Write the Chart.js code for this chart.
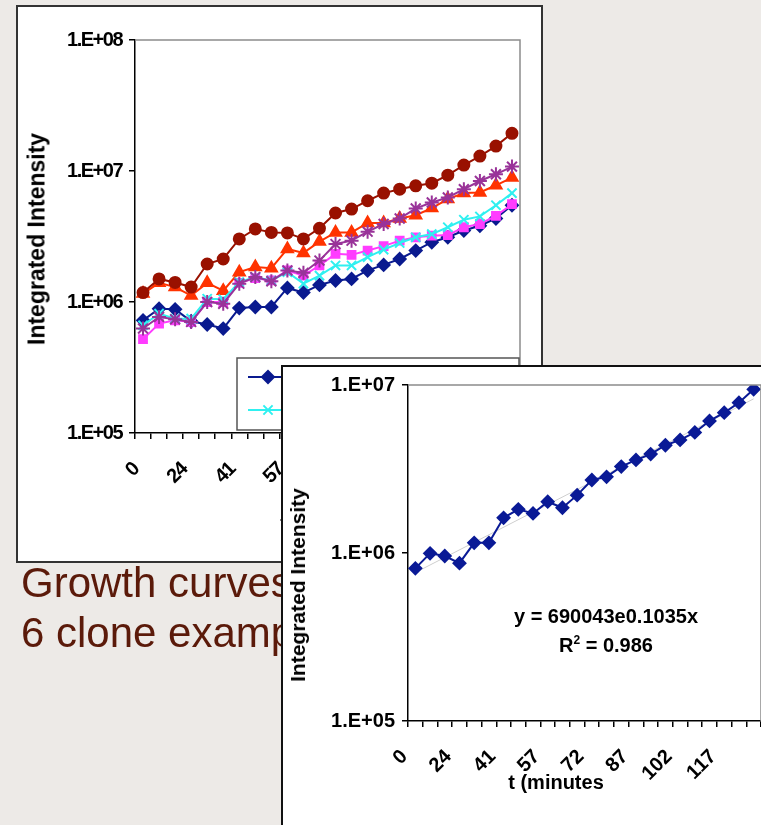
<!DOCTYPE html>
<html>
<head>
<meta charset="utf-8">
<script src="https://cdn.jsdelivr.net/npm/chart.js@4.4.0/dist/chart.umd.min.js"></script>
<style>
  body { margin: 0; width: 761px; height: 825px; overflow: hidden; position: relative;
         background: #edeae7; font-family: Arial, "Liberation Sans", sans-serif; }
  .box { position: absolute; background: #fff; box-sizing: border-box; }
  #box1 { left: 16px; top: 5px; width: 527px; height: 558px; border: 2px solid #333; }
  #box2 { left: 281px; top: 365px; width: 600px; height: 600px; border: 2px solid #111; }
  canvas { position: absolute; }
  #c1 { left: 17px; top: 6px; }
  #c2 { left: 282px; top: 366px; }
  #caption { position: absolute; left: 21px; top: 558px; font-size: 42px; line-height: 50px;
             color: #5b1a0a; white-space: nowrap; }
  .t2 { position: absolute; font-weight: bold; color: #000; white-space: nowrap; }
  #ytitle1 { left: 37px; top: 239px; font-size: 23px; transform: translate(-50%, -50%) rotate(-90deg); }
  #xtitle1 { left: 328px; top: 523px; font-size: 20px; transform: translate(-50%, -50%); }
  #ytitle2 { left: 298px; top: 585px; font-size: 21px; transform: translate(-50%, -50%) rotate(-90deg); }
  #xtitle2 { left: 556px; top: 782px; font-size: 20px; transform: translate(-50%, -50%); }
  #fit { left: 456px; top: 602px; width: 300px; text-align: center; font-size: 20px; line-height: 29px; }
  #fit sup { font-size: 12px; line-height: 0; }
</style>
</head>
<body>
<div class="box" id="box1"></div>
<canvas id="c1" width="524" height="556"></canvas>
<div class="t2" id="ytitle1">Integrated Intensity</div>
<div class="t2" id="xtitle1">t (minutes</div>
<div id="caption">Growth curves<br>6 clone examples</div>
<div class="box" id="box2"></div>
<canvas id="c2" width="500" height="480"></canvas>
<div class="t2" id="ytitle2">Integrated Intensity</div>
<div class="t2" id="xtitle2">t (minutes</div>
<div class="t2" id="fit">y = 690043e0.1035x<br>R<sup>2</sup> = 0.986</div>

<script>
// category labels (only every third one is printed on the slide)
const xLabels = ['0', '', '', '24', '', '', '41', '', '', '57', '', '', '72', '', '', '87', '', '', '102', '', '', '117', '', ''];

const yTickValues1 = [1e5, 1e6, 1e7, 1e8];
const yTickText1 = ['1.E+05', '1.E+06', '1.E+07', '1.E+08'];
const yTickValues2 = [1e5, 1e6, 1e7];
const yTickText2 = ['1.E+05', '1.E+06', '1.E+07'];

// chart 1: six clones
const cloneNames = ['Clone 1', 'Clone 2', 'Clone 3', 'Clone 4', 'Clone 5', 'Clone 6'];
const clone1 = [7.24e5, 8.89e5, 8.79e5, 7.13e5, 6.73e5, 6.27e5, 8.99e5, 9.16e5, 9.16e5, 1.28e6, 1.18e6, 1.35e6,
                1.46e6, 1.50e6, 1.74e6, 1.92e6, 2.13e6, 2.47e6, 2.86e6, 3.12e6, 3.51e6, 3.82e6, 4.34e6, 5.48e6];
const clone2 = [5.2e5, 6.84e5, 7.24e5, 7.05e5, 1.0e6, 1.0e6, 1.40e6, 1.52e6, 1.46e6, 1.74e6, 1.59e6, 1.90e6,
                2.33e6, 2.29e6, 2.47e6, 2.67e6, 2.94e6, 3.12e6, 3.21e6, 3.24e6, 3.72e6, 3.94e6, 4.55e6, 5.58e6];
const clone3 = [1.16e6, 1.40e6, 1.30e6, 1.12e6, 1.40e6, 1.22e6, 1.69e6, 1.85e6, 1.81e6, 2.54e6, 2.37e6, 2.89e6,
                3.40e6, 3.40e6, 4.01e6, 4.01e6, 4.34e6, 4.60e6, 5.21e6, 6.10e6, 6.78e6, 6.85e6, 7.78e6, 8.91e6];
const clone4 = [6.64e5, 8.15e5, 7.46e5, 7.46e5, 1.06e6, 1.05e6, 1.42e6, 1.55e6, 1.46e6, 1.69e6, 1.38e6, 1.59e6,
                1.90e6, 1.90e6, 2.20e6, 2.51e6, 2.82e6, 3.12e6, 3.30e6, 3.72e6, 4.25e6, 4.50e6, 5.48e6, 6.78e6];
const clone5 = [6.27e5, 7.69e5, 7.38e5, 7.05e5, 1.0e6, 9.7e5, 1.38e6, 1.55e6, 1.44e6, 1.74e6, 1.67e6, 2.07e6,
                2.77e6, 2.94e6, 3.44e6, 3.94e6, 4.34e6, 5.18e6, 5.75e6, 6.28e6, 7.26e6, 8.39e6, 9.44e6, 1.08e7];
const clone6 = [1.18e6, 1.50e6, 1.41e6, 1.30e6, 1.95e6, 2.13e6, 3.03e6, 3.61e6, 3.40e6, 3.37e6, 3.03e6, 3.65e6,
                4.78e6, 5.12e6, 5.93e6, 6.78e6, 7.26e6, 7.71e6, 8.07e6, 9.29e6, 1.11e7, 1.30e7, 1.55e7, 1.94e7];

// chart 2: single clone with exponential trendline (end points of the grey line)
const single = [8.1e5, 9.95e5, 9.6e5, 8.7e5, 1.15e6, 1.15e6, 1.62e6, 1.82e6, 1.72e6, 2.02e6, 1.86e6, 2.21e6,
                2.72e6, 2.84e6, 3.27e6, 3.58e6, 3.88e6, 4.38e6, 4.71e6, 5.22e6, 6.11e6, 6.84e6, 7.85e6, 9.42e6];
const trendEnds = [7.65e5, 8.27e6];

const styles = [
  { color: '#0a1a8f', point: 'rectRot', r: 6 },
  { color: '#ff3cff', point: 'rect', r: 5.5 },
  { color: '#ff3300', point: 'triangle', r: 6.5 },
  { color: '#2ff0f0', point: 'crossRot', r: 6.5 },
  { color: '#993399', point: 'star', r: 7 },
  { color: '#991100', point: 'circle', r: 5.5 }
];

const BOLD = 'bold';

const plotFrame = {
  id: 'plotFrame',
  afterDatasetsDraw(chart) {
    const a = chart.chartArea, ctx = chart.ctx;
    ctx.save();
    ctx.strokeStyle = '#8c8c8c';
    ctx.lineWidth = 1.5;
    ctx.beginPath();
    ctx.moveTo(a.left, a.top);
    ctx.lineTo(a.right, a.top);
    ctx.lineTo(a.right, a.bottom);
    ctx.stroke();
    ctx.restore();
  }
};

// the first chart uses a squeezed font for its tick labels
const squeeze = {
  id: 'squeeze',
  beforeDraw(chart) { chart.ctx.letterSpacing = '-1.5px'; }
};

function marker(ctx, st, x, y) {
  const opts = { pointStyle: st.point, radius: st.r, rotation: 0, borderWidth: 2 };
  ctx.fillStyle = st.color;
  ctx.strokeStyle = st.color;
  ctx.lineWidth = 2;
  if (Chart.helpers && Chart.helpers.drawPoint) {
    Chart.helpers.drawPoint(ctx, opts, x, y);
  } else {
    ctx.beginPath(); ctx.arc(x, y, st.r, 0, Math.PI * 2); ctx.fill();
  }
}

const legendBox = {
  id: 'legendBox',
  afterDraw(chart) {
    const ctx = chart.ctx;
    ctx.save();
    ctx.fillStyle = '#fff';
    ctx.fillRect(220, 352, 282, 72);
    ctx.strokeStyle = '#555';
    ctx.lineWidth = 1.5;
    ctx.strokeRect(220, 352, 282, 72);
    ctx.font = 'bold 15px Arial';
    ctx.textBaseline = 'middle';
    chart.data.datasets.forEach((ds, i) => {
      const col = i % 3, row = Math.floor(i / 3);
      const x = 231 + col * 94, y = 371 + row * 33;
      const st = styles[i];
      ctx.strokeStyle = st.color;
      ctx.lineWidth = 2;
      ctx.beginPath(); ctx.moveTo(x, y); ctx.lineTo(x + 40, y); ctx.stroke();
      marker(ctx, st, x + 20, y);
      ctx.fillStyle = '#000';
      ctx.fillText(ds.label, x + 46, y);
    });
    ctx.restore();
  }
};

function yScale(vals, text, fontSize, width) {
  return {
    type: 'logarithmic',
    min: vals[0],
    max: vals[vals.length - 1],
    afterBuildTicks: s => { s.ticks = vals.map(v => ({ value: v })); },
    afterFit: s => { s.width = width; s.paddingTop = 0; s.paddingBottom = 0; },
    ticks: {
      color: '#000',
      padding: 7,
      font: { size: fontSize, weight: BOLD, family: 'Arial' },
      callback: v => text[vals.indexOf(v)]
    },
    grid: { drawOnChartArea: false, drawTicks: true, tickLength: 6, color: '#000', lineWidth: 1.5 },
    border: { display: true, color: '#000', width: 1.5 }
  };
}

function xScale(fontSize, height, shift, pad) {
  return {
    type: 'category',
    offset: true,
    afterFit: s => { s.height = height; s.paddingLeft = 0; s.paddingRight = 0; },
    ticks: {
      autoSkip: false, minRotation: 45, maxRotation: 45, color: '#000', padding: pad,
      labelOffset: shift,
      font: { size: fontSize, weight: BOLD, family: 'Arial' }
    },
    grid: { offset: true, drawOnChartArea: false, drawTicks: true, tickLength: 6, color: '#000', lineWidth: 1.5 },
    border: { display: true, color: '#000', width: 1.5 }
  };
}

const cloneData = [clone1, clone2, clone3, clone4, clone5, clone6];

new Chart(document.getElementById('c1'), {
  type: 'line',
  data: {
    labels: xLabels,
    datasets: cloneData.map((d, i) => ({
      label: cloneNames[i],
      data: d,
      order: 6 - i,
      borderColor: styles[i].color,
      backgroundColor: styles[i].color,
      pointStyle: styles[i].point,
      pointRadius: styles[i].r,
      pointBorderWidth: 2,
      borderWidth: 2,
      tension: 0
    }))
  },
  options: {
    responsive: false,
    animation: false,
    layout: { padding: { top: 34, right: 21, left: 0, bottom: 0 } },
    plugins: { legend: { display: false }, tooltip: { enabled: false } },
    scales: {
      x: xScale(20, 129, -7, 19),
      y: yScale(yTickValues1, yTickText1, 20, 118)
    }
  },
  plugins: [squeeze, plotFrame, legendBox]
});

new Chart(document.getElementById('c2'), {
  type: 'line',
  data: {
    labels: xLabels,
    datasets: [
      {
        label: 'Clone',
        data: single,
        order: 0,
        borderColor: '#0a1a96',
        backgroundColor: '#0a1a96',
        pointStyle: 'rectRot',
        pointRadius: 6,
        borderWidth: 2,
        tension: 0
      },
      {
        label: 'Expon. trend',
        data: xLabels.map((_, i) => i === 0 ? trendEnds[0] : (i === xLabels.length - 1 ? trendEnds[1] : null)),
        order: 1,
        spanGaps: true,
        borderColor: '#cfcfcf',
        borderWidth: 1,
        pointRadius: 0
      }
    ]
  },
  options: {
    responsive: false,
    animation: false,
    layout: { padding: { top: 19, right: 21, left: 0, bottom: 0 } },
    plugins: { legend: { display: false }, tooltip: { enabled: false } },
    scales: {
      x: xScale(20, 125, -11, 18),
      y: yScale(yTickValues2, yTickText2, 20, 126)
    }
  },
  plugins: [plotFrame]
});
</script>
</body>
</html>
